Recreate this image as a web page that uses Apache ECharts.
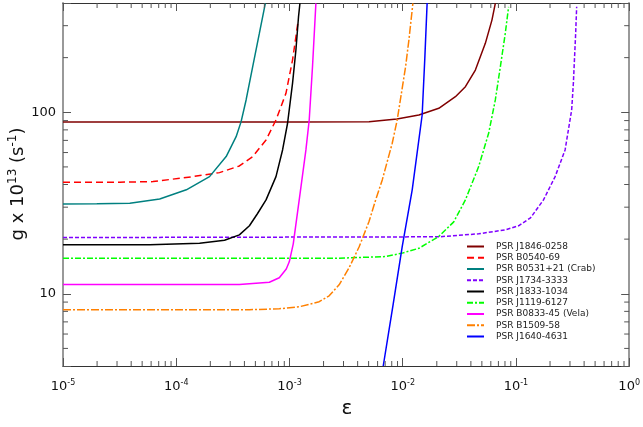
<!DOCTYPE html>
<html><head><meta charset="utf-8">
<script src="https://cdn.jsdelivr.net/npm/echarts@6/dist/echarts.min.js"></script>
<style>html,body{margin:0;padding:0;background:#fff}#c{width:643px;height:427px}</style>
</head><body><div id="c"></div>
<script>
const FONT = 'DejaVu Sans';
// ---- data: [epsilon, g x 1e13 (s^-1)] ----
const names = ['PSR J1846-0258','PSR B0540-69','PSR B0531+21 (Crab)','PSR J1734-3333','PSR J1833-1034','PSR J1119-6127','PSR B0833-45 (Vela)','PSR B1509-58','PSR J1640-4631'];
const colors = ['#800000','#ff0000','#008080','#7f00ff','#000000','#00ff00','#ff00ff','#ff8000','#0000ff'];
const dashes = ['solid',[7,4],'solid',[4,2],'solid',[6,2,2,2],'solid',[8,2,2,2],'solid'];

const j1846_0258 = [[1e-5,88.4],[1.607e-4,88.4],[1.219e-3,88.4],[5.04e-3,88.8],[8.89e-3,91.9],[0.01389,96.6],[0.02083,105.2],[0.02921,121.8],[0.03578,138.3],[0.04382,170.9],[0.05367,239.8],[0.06136,322],[0.06574,398]];
const b0540_69 = [[1e-5,41.2],[3.18e-5,41.2],[6.24e-5,41.5],[1.40e-4,44.2],[2.41e-4,46.5],[3.61e-4,50.6],[4.73e-4,57.0],[6.21e-4,70.4],[7.60e-4,90.7],[9.31e-4,127.2],[1.064e-3,194],[1.14e-3,260.7],[1.195e-3,322]];
const b0531_21 = [[1e-5,31.2],[1.99e-5,31.3],[3.89e-5,31.5],[7.14e-5,33.3],[1.228e-4,37.4],[1.968e-4,44.2],[2.76e-4,57.0],[3.38e-4,73.4],[3.74e-4,88.8],[4.14e-4,116.9],[4.73e-4,178],[5.42e-4,272],[6.12e-4,398]];
const j1734_3333 = [[1e-5,20.4],[0.02083,20.6],[0.04686,21.4],[0.0805,22.5],[0.1054,23.7],[0.1344,26.2],[0.1750,32.9],[0.2218,44.2],[0.2716,62.0],[0.3105,103],[0.3214,144.4],[0.3368,272],[0.3437,381]];
const j1833_1034 = [[1e-5,18.6],[5.83e-5,18.6],[1.607e-4,18.96],[2.67e-4,19.7],[3.61e-4,21.1],[4.43e-4,23.7],[5.21e-4,27.6],[6.21e-4,32.9],[7.60e-4,44.2],[8.69e-4,62.0],[9.62e-4,87.0],[1.064e-3,144.4],[1.14e-3,220.3],[1.202e-3,335.9],[1.237e-3,398]];
const j1119_6127 = [[1e-5,15.7],[2.744e-3,15.7],[7.07e-3,16.04],[9.90e-3,16.75],[0.01389,17.8],[0.02083,20.7],[0.02823,24.9],[0.03578,32.9],[0.04686,50.2],[0.05739,76.6],[0.06574,116.9],[0.0728,178],[0.0805,272],[0.0861,381]];
const b0833_45 = [[1e-5,11.25],[3.61e-4,11.25],[6.64e-4,11.57],[8.13e-4,12.25],[9.37e-4,13.7],[9.96e-4,15.0],[1.080e-3,18.85],[1.219e-3,32.9],[1.397e-3,62.0],[1.494e-3,90.7],[1.597e-3,178],[1.711e-3,398]];
const b1509_58 = [[1e-5,8.17],[4.43e-4,8.17],[8.13e-4,8.27],[1.219e-3,8.48],[1.830e-3,9.04],[2.241e-3,9.75],[2.744e-3,11.2],[3.36e-3,13.9],[4.115e-3,18.1],[5.04e-3,25.0],[5.77e-3,32.9],[6.60e-3,42.4],[8.08e-3,67.5],[8.94e-3,90.7],[0.01060,178],[0.01134,250],[0.01230,398]];
const j1640_4631 = [[6.73e-3,4.0],[8.2e-3,8.6],[9.90e-3,18.2],[0.01213,37.4],[0.01485,96.6],[0.01568,199],[0.01643,400]];
const seriesData = [j1846_0258,b0540_69,b0531_21,j1734_3333,j1833_1034,j1119_6127,b0833_45,b1509_58,j1640_4631];

// ---- axis ticks ----
const xMin = 1e-5, xMax = 1, yMin = 4, yMax = 400;
const xDecades = [-5,-4,-3,-2,-1];
const mantissas = [2,3,4,5,6,7,8,9];
const yMinorTicks = [5,6,7,8,9,20,30,40,50,60,70,80,90,200,300];
const xMinorTicks = [];
xDecades.forEach(d => mantissas.forEach(m => xMinorTicks.push(m * Math.pow(10, d))));

const chart = echarts.init(document.getElementById('c'), null, {renderer:'canvas'});

const lineSeries = names.map((n, i) => ({
  name: n, type: 'line', data: seriesData[i], symbol: 'none', showSymbol: false,
  xAxisIndex: 0, yAxisIndex: 0, clip: true, z: 3,
  lineStyle: {color: colors[i], width: 1.5, type: dashes[i]},
  itemStyle: {color: colors[i]}
}));

const TL = 5;
const minorX = {
  type: 'custom', xAxisIndex: 0, yAxisIndex: 0, clip: false, silent: true, z: 5,
  data: xMinorTicks.map(v => [v, yMin]),
  renderItem(params, api) {
    const v = api.value(0);
    const b = api.coord([v, yMin]), t = api.coord([v, yMax]);
    return {type: 'group', children: [
      {type: 'line', shape: {x1: b[0], y1: b[1], x2: b[0], y2: b[1] - TL}, style: {stroke: '#555', lineWidth: 1}},
      {type: 'line', shape: {x1: t[0], y1: t[1], x2: t[0], y2: t[1] + TL}, style: {stroke: '#555', lineWidth: 1}}
    ]};
  }
};
const minorY = {
  type: 'custom', xAxisIndex: 0, yAxisIndex: 0, clip: false, silent: true, z: 5,
  data: yMinorTicks.map(v => [xMin, v]),
  renderItem(params, api) {
    const v = api.value(1);
    const l = api.coord([xMin, v]), r = api.coord([xMax, v]);
    return {type: 'group', children: [
      {type: 'line', shape: {x1: l[0], y1: l[1], x2: l[0] + TL, y2: l[1]}, style: {stroke: '#555', lineWidth: 1}},
      {type: 'line', shape: {x1: r[0], y1: r[1], x2: r[0] - TL, y2: r[1]}, style: {stroke: '#555', lineWidth: 1}}
    ]};
  }
};

const isPow10 = v => { const l = Math.log10(v); return Math.abs(l - Math.round(l)) < 1e-6; };

const option = {
  animation: false,
  backgroundColor: '#fff',
  textStyle: {fontFamily: FONT},
  grid: {left: 63, right: 12, top: 3, bottom: 61, containLabel: false},
  legend: {
    data: names, orient: 'vertical', left: 466, top: 242, padding: 0,
    itemWidth: 17, itemHeight: 10, itemGap: 2.25,
    itemStyle: {opacity: 0},
    lineStyle: {width: 2},
    textStyle: {fontFamily: FONT, fontSize: 9, color: '#222', padding: [0, 0, 0, 7]}
  },
  xAxis: [
    {type: 'log', logBase: 10, min: xMin, max: xMax, position: 'bottom',
     axisLine: {lineStyle: {color: '#333', width: 1}},
     axisTick: {inside: true, length: 8, lineStyle: {color: '#555'}},
     splitLine: {show: false},
     axisLabel: {margin: 13, color: '#111', fontFamily: FONT,
       formatter: v => '{b|10}{s|' + Math.round(Math.log10(v)) + '}',
       rich: {b: {fontSize: 13, fontFamily: FONT, color: '#111', lineHeight: 16},
              s: {fontSize: 8, fontFamily: FONT, color: '#111', verticalAlign: 'top', lineHeight: 10}}}},
    {type: 'log', logBase: 10, min: xMin, max: xMax, position: 'top',
     axisLine: {lineStyle: {color: '#333', width: 1}},
     axisTick: {inside: true, length: 8, lineStyle: {color: '#555'}},
     splitLine: {show: false}, axisLabel: {show: false}}
  ],
  yAxis: [
    {type: 'log', logBase: 10, min: yMin, max: yMax, position: 'left',
     axisLine: {lineStyle: {color: '#999', width: 2}},
     axisTick: {inside: true, length: 8, lineStyle: {color: '#555'}},
     splitLine: {show: false},
     axisLabel: {margin: 7, fontSize: 13, color: '#111', fontFamily: FONT,
       formatter: v => isPow10(v) ? String(Math.round(v)) : ''}},
    {type: 'log', logBase: 10, min: yMin, max: yMax, position: 'right',
     axisLine: {lineStyle: {color: '#999', width: 2}},
     axisTick: {inside: true, length: 8, lineStyle: {color: '#555'}},
     splitLine: {show: false}, axisLabel: {show: false}}
  ],
  graphic: [
    {type: 'text', x: 18, y: 184, rotation: Math.PI / 2,
     style: {text: '{a|g x 10}{s|13}{a| (s}{s|-1}{a|)}', align: 'center', verticalAlign: 'middle',
       rich: {a: {fontSize: 18, fontFamily: FONT, fill: '#111', lineHeight: 22},
              s: {fontSize: 12, fontFamily: FONT, fill: '#111', verticalAlign: 'top', lineHeight: 14}}}},
    {type: 'text', x: 347, y: 409,
     style: {text: 'ε', fontSize: 20, fontFamily: FONT, fill: '#111', align: 'center', verticalAlign: 'middle'}}
  ],
  series: [...lineSeries, minorX, minorY]
};
chart.setOption(option);
</script>
</body></html>
